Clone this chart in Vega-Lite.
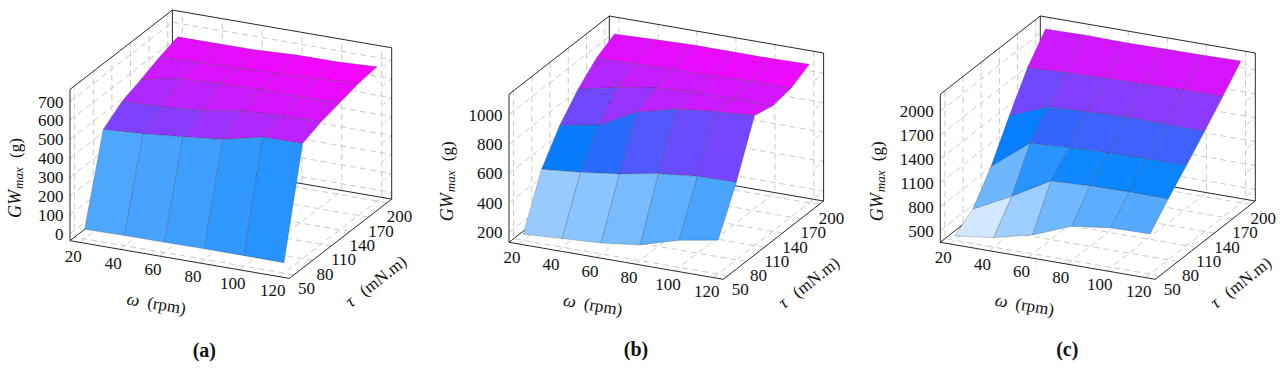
{"$schema":"https://vega.github.io/schema/vega-lite/v6.json","width":1280,"height":372,"padding":0,"autosize":"none","background":"white","config":{"view":{"stroke":null}},
"params":[{"name":"P","value":{
"a":{"ox":70,"oy":240.7,"wx":219.3,"wy":37.7,"tx":102.4,"ty":-79.3,"zh":151.3,"zm":-36,"zr":800,"lo":17,"hi":674,"gx":-54.3,"cx":204.3,"cy":350.7},
"b":{"ox":509,"oy":242.3,"wx":214.3,"wy":37,"tx":100.3,"ty":-78.3,"zh":148,"zm":132,"zr":1006,"lo":174,"hi":1074,"gx":-61.3,"cx":636,"cy":350},
"c":{"ox":940.3,"oy":242.3,"wx":215,"wy":37,"tx":100,"ty":-78.3,"zh":148,"zm":353,"zr":1860,"lo":409,"hi":2137,"gx":-62,"cx":1067.3,"cy":350}}}],
"data":{"values":[
{"m":"bb","p":"a","id":"a1","w":[125,15,15],"t":[207.5,207.5,42.5],"g":[-36,-36,-36],"k":[0,1,2]},
{"m":"bb","p":"a","id":"a2","w":[15,15],"t":[207.5,207.5],"g":[-36,764],"k":[0,1]},
{"m":"bb","p":"b","id":"b1","w":[125,15,15],"t":[207.5,207.5,42.5],"g":[132,132,132],"k":[0,1,2]},
{"m":"bb","p":"b","id":"b2","w":[15,15],"t":[207.5,207.5],"g":[132,1138],"k":[0,1]},
{"m":"bb","p":"c","id":"c1","w":[125,15,15],"t":[207.5,207.5,42.5],"g":[353,353,353],"k":[0,1,2]},
{"m":"bb","p":"c","id":"c2","w":[15,15],"t":[207.5,207.5],"g":[353,2213],"k":[0,1]},
{"m":"bf","p":"a","id":"a3","w":[15,15,15,125,125,125,15],"t":[42.5,42.5,207.5,207.5,207.5,42.5,42.5],"g":[-36,764,764,764,-36,-36,-36],"k":[0,1,2,3,4,5,6]},
{"m":"bf","p":"b","id":"b3","w":[15,15,15,125,125,125,15],"t":[42.5,42.5,207.5,207.5,207.5,42.5,42.5],"g":[132,1138,1138,1138,132,132,132],"k":[0,1,2,3,4,5,6]},
{"m":"bf","p":"c","id":"c3","w":[15,15,15,125,125,125,15],"t":[42.5,42.5,207.5,207.5,207.5,42.5,42.5],"g":[353,2213,2213,2213,353,353,353],"k":[0,1,2,3,4,5,6]},

{"m":"gr","p":"a","id":"aw20","w":[20,20,20],"t":[42.5,207.5,207.5],"g":[-36,-36,764],"k":[0,1,2]},
{"m":"gr","p":"a","id":"aw40","w":[40,40,40],"t":[42.5,207.5,207.5],"g":[-36,-36,764],"k":[0,1,2]},
{"m":"gr","p":"a","id":"aw60","w":[60,60,60],"t":[42.5,207.5,207.5],"g":[-36,-36,764],"k":[0,1,2]},
{"m":"gr","p":"a","id":"aw80","w":[80,80,80],"t":[42.5,207.5,207.5],"g":[-36,-36,764],"k":[0,1,2]},
{"m":"gr","p":"a","id":"aw100","w":[100,100,100],"t":[42.5,207.5,207.5],"g":[-36,-36,764],"k":[0,1,2]},
{"m":"gr","p":"a","id":"aw120","w":[120,120,120],"t":[42.5,207.5,207.5],"g":[-36,-36,764],"k":[0,1,2]},
{"m":"gr","p":"a","id":"at50","w":[125,15,15],"t":[50,50,50],"g":[-36,-36,764],"k":[0,1,2]},
{"m":"gr","p":"a","id":"at80","w":[125,15,15],"t":[80,80,80],"g":[-36,-36,764],"k":[0,1,2]},
{"m":"gr","p":"a","id":"at110","w":[125,15,15],"t":[110,110,110],"g":[-36,-36,764],"k":[0,1,2]},
{"m":"gr","p":"a","id":"at140","w":[125,15,15],"t":[140,140,140],"g":[-36,-36,764],"k":[0,1,2]},
{"m":"gr","p":"a","id":"at170","w":[125,15,15],"t":[170,170,170],"g":[-36,-36,764],"k":[0,1,2]},
{"m":"gr","p":"a","id":"at200","w":[125,15,15],"t":[200,200,200],"g":[-36,-36,764],"k":[0,1,2]},
{"m":"gr","p":"a","id":"az0","w":[15,15,125,125],"t":[42.5,207.5,207.5,193],"g":[0,0,0,0],"k":[0,1,2,3]},
{"m":"gr","p":"a","id":"az100","w":[15,15,125,125],"t":[42.5,207.5,207.5,193],"g":[100,100,100,100],"k":[0,1,2,3]},
{"m":"gr","p":"a","id":"az200","w":[15,15,125,125],"t":[42.5,207.5,207.5,193],"g":[200,200,200,200],"k":[0,1,2,3]},
{"m":"gr","p":"a","id":"az300","w":[15,15,125,125],"t":[42.5,207.5,207.5,193],"g":[300,300,300,300],"k":[0,1,2,3]},
{"m":"gr","p":"a","id":"az400","w":[15,15,125,125],"t":[42.5,207.5,207.5,193],"g":[400,400,400,400],"k":[0,1,2,3]},
{"m":"gr","p":"a","id":"az500","w":[15,15,125,125],"t":[42.5,207.5,207.5,193],"g":[500,500,500,500],"k":[0,1,2,3]},
{"m":"gr","p":"a","id":"az600","w":[15,15,125,125],"t":[42.5,207.5,207.5,193],"g":[600,600,600,600],"k":[0,1,2,3]},
{"m":"gr","p":"a","id":"az700","w":[15,15,125,125],"t":[42.5,207.5,207.5,193],"g":[700,700,700,700],"k":[0,1,2,3]},
{"m":"gr","p":"b","id":"bw20","w":[20,20,20],"t":[42.5,207.5,207.5],"g":[132,132,1138],"k":[0,1,2]},
{"m":"gr","p":"b","id":"bw40","w":[40,40,40],"t":[42.5,207.5,207.5],"g":[132,132,1138],"k":[0,1,2]},
{"m":"gr","p":"b","id":"bw60","w":[60,60,60],"t":[42.5,207.5,207.5],"g":[132,132,1138],"k":[0,1,2]},
{"m":"gr","p":"b","id":"bw80","w":[80,80,80],"t":[42.5,207.5,207.5],"g":[132,132,1138],"k":[0,1,2]},
{"m":"gr","p":"b","id":"bw100","w":[100,100,100],"t":[42.5,207.5,207.5],"g":[132,132,1138],"k":[0,1,2]},
{"m":"gr","p":"b","id":"bw120","w":[120,120,120],"t":[42.5,207.5,207.5],"g":[132,132,1138],"k":[0,1,2]},
{"m":"gr","p":"b","id":"bt50","w":[125,15,15],"t":[50,50,50],"g":[132,132,1138],"k":[0,1,2]},
{"m":"gr","p":"b","id":"bt80","w":[125,15,15],"t":[80,80,80],"g":[132,132,1138],"k":[0,1,2]},
{"m":"gr","p":"b","id":"bt110","w":[125,15,15],"t":[110,110,110],"g":[132,132,1138],"k":[0,1,2]},
{"m":"gr","p":"b","id":"bt140","w":[125,15,15],"t":[140,140,140],"g":[132,132,1138],"k":[0,1,2]},
{"m":"gr","p":"b","id":"bt170","w":[125,15,15],"t":[170,170,170],"g":[132,132,1138],"k":[0,1,2]},
{"m":"gr","p":"b","id":"bt200","w":[125,15,15],"t":[200,200,200],"g":[132,132,1138],"k":[0,1,2]},
{"m":"gr","p":"b","id":"bz200","w":[15,15,125,125],"t":[42.5,207.5,207.5,193],"g":[200,200,200,200],"k":[0,1,2,3]},
{"m":"gr","p":"b","id":"bz400","w":[15,15,125,125],"t":[42.5,207.5,207.5,193],"g":[400,400,400,400],"k":[0,1,2,3]},
{"m":"gr","p":"b","id":"bz600","w":[15,15,125,125],"t":[42.5,207.5,207.5,193],"g":[600,600,600,600],"k":[0,1,2,3]},
{"m":"gr","p":"b","id":"bz800","w":[15,15,125,125],"t":[42.5,207.5,207.5,193],"g":[800,800,800,800],"k":[0,1,2,3]},
{"m":"gr","p":"b","id":"bz1000","w":[15,15,125,125],"t":[42.5,207.5,207.5,193],"g":[1000,1000,1000,1000],"k":[0,1,2,3]},
{"m":"gr","p":"c","id":"cw20","w":[20,20,20],"t":[42.5,207.5,207.5],"g":[353,353,2213],"k":[0,1,2]},
{"m":"gr","p":"c","id":"cw40","w":[40,40,40],"t":[42.5,207.5,207.5],"g":[353,353,2213],"k":[0,1,2]},
{"m":"gr","p":"c","id":"cw60","w":[60,60,60],"t":[42.5,207.5,207.5],"g":[353,353,2213],"k":[0,1,2]},
{"m":"gr","p":"c","id":"cw80","w":[80,80,80],"t":[42.5,207.5,207.5],"g":[353,353,2213],"k":[0,1,2]},
{"m":"gr","p":"c","id":"cw100","w":[100,100,100],"t":[42.5,207.5,207.5],"g":[353,353,2213],"k":[0,1,2]},
{"m":"gr","p":"c","id":"cw120","w":[120,120,120],"t":[42.5,207.5,207.5],"g":[353,353,2213],"k":[0,1,2]},
{"m":"gr","p":"c","id":"ct50","w":[125,15,15],"t":[50,50,50],"g":[353,353,2213],"k":[0,1,2]},
{"m":"gr","p":"c","id":"ct80","w":[125,15,15],"t":[80,80,80],"g":[353,353,2213],"k":[0,1,2]},
{"m":"gr","p":"c","id":"ct110","w":[125,15,15],"t":[110,110,110],"g":[353,353,2213],"k":[0,1,2]},
{"m":"gr","p":"c","id":"ct140","w":[125,15,15],"t":[140,140,140],"g":[353,353,2213],"k":[0,1,2]},
{"m":"gr","p":"c","id":"ct170","w":[125,15,15],"t":[170,170,170],"g":[353,353,2213],"k":[0,1,2]},
{"m":"gr","p":"c","id":"ct200","w":[125,15,15],"t":[200,200,200],"g":[353,353,2213],"k":[0,1,2]},
{"m":"gr","p":"c","id":"cz500","w":[15,15,125,125],"t":[42.5,207.5,207.5,193],"g":[500,500,500,500],"k":[0,1,2,3]},
{"m":"gr","p":"c","id":"cz800","w":[15,15,125,125],"t":[42.5,207.5,207.5,193],"g":[800,800,800,800],"k":[0,1,2,3]},
{"m":"gr","p":"c","id":"cz1100","w":[15,15,125,125],"t":[42.5,207.5,207.5,193],"g":[1100,1100,1100,1100],"k":[0,1,2,3]},
{"m":"gr","p":"c","id":"cz1400","w":[15,15,125,125],"t":[42.5,207.5,207.5,193],"g":[1400,1400,1400,1400],"k":[0,1,2,3]},
{"m":"gr","p":"c","id":"cz1700","w":[15,15,125,125],"t":[42.5,207.5,207.5,193],"g":[1700,1700,1700,1700],"k":[0,1,2,3]},
{"m":"gr","p":"c","id":"cz2000","w":[15,15,125,125],"t":[42.5,207.5,207.5,193],"g":[2000,2000,2000,2000],"k":[0,1,2,3]},

{"m":"q","p":"a","id":"qa01","w":[20,40,40,20],"t":[170,170,200,200],"g":[618,628,652,651],"k":[0,1,2,3]},
{"m":"q","p":"a","id":"qa02","w":[40,60,60,40],"t":[170,170,200,200],"g":[628,634,653,652],"k":[0,1,2,3]},
{"m":"q","p":"a","id":"qa03","w":[60,80,80,60],"t":[170,170,200,200],"g":[634,642,663,653],"k":[0,1,2,3]},
{"m":"q","p":"a","id":"qa04","w":[80,100,100,80],"t":[170,170,200,200],"g":[642,650,664,663],"k":[0,1,2,3]},
{"m":"q","p":"a","id":"qa05","w":[100,120,120,100],"t":[170,170,200,200],"g":[650,662,674,664],"k":[0,1,2,3]},
{"m":"q","p":"a","id":"qa06","w":[20,40,40,20],"t":[140,140,170,170],"g":[575,619,628,618],"k":[0,1,2,3]},
{"m":"q","p":"a","id":"qa07","w":[40,60,60,40],"t":[140,140,170,170],"g":[619,629,634,628],"k":[0,1,2,3]},
{"m":"q","p":"a","id":"qa08","w":[60,80,80,60],"t":[140,140,170,170],"g":[629,634,642,634],"k":[0,1,2,3]},
{"m":"q","p":"a","id":"qa09","w":[80,100,100,80],"t":[140,140,170,170],"g":[634,631,650,642],"k":[0,1,2,3]},
{"m":"q","p":"a","id":"qa10","w":[100,120,120,100],"t":[140,140,170,170],"g":[631,636,662,650],"k":[0,1,2,3]},
{"m":"q","p":"a","id":"qa11","w":[20,40,40,20],"t":[110,110,140,140],"g":[538,546,619,575],"k":[0,1,2,3]},
{"m":"q","p":"a","id":"qa12","w":[40,60,60,40],"t":[110,110,140,140],"g":[546,561,629,619],"k":[0,1,2,3]},
{"m":"q","p":"a","id":"qa13","w":[60,80,80,60],"t":[110,110,140,140],"g":[561,597,634,629],"k":[0,1,2,3]},
{"m":"q","p":"a","id":"qa14","w":[80,100,100,80],"t":[110,110,140,140],"g":[597,607,631,634],"k":[0,1,2,3]},
{"m":"q","p":"a","id":"qa15","w":[100,120,120,100],"t":[110,110,140,140],"g":[607,612,636,631],"k":[0,1,2,3]},
{"m":"q","p":"a","id":"qa16","w":[20,40,40,20],"t":[80,80,110,110],"g":[466,480,546,538],"k":[0,1,2,3]},
{"m":"q","p":"a","id":"qa17","w":[40,60,60,40],"t":[80,80,110,110],"g":[480,500,561,546],"k":[0,1,2,3]},
{"m":"q","p":"a","id":"qa18","w":[60,80,80,60],"t":[80,80,110,110],"g":[500,522,597,561],"k":[0,1,2,3]},
{"m":"q","p":"a","id":"qa19","w":[80,100,100,80],"t":[80,80,110,110],"g":[522,570,607,597],"k":[0,1,2,3]},
{"m":"q","p":"a","id":"qa20","w":[100,120,120,100],"t":[80,80,110,110],"g":[570,573,612,607],"k":[0,1,2,3]},
{"m":"q","p":"a","id":"qa21","w":[20,40,40,20],"t":[50,50,80,80],"g":[14,18,480,466],"k":[0,1,2,3]},
{"m":"q","p":"a","id":"qa22","w":[40,60,60,40],"t":[50,50,80,80],"g":[18,18,500,480],"k":[0,1,2,3]},
{"m":"q","p":"a","id":"qa23","w":[60,80,80,60],"t":[50,50,80,80],"g":[18,20,522,500],"k":[0,1,2,3]},
{"m":"q","p":"a","id":"qa24","w":[80,100,100,80],"t":[50,50,80,80],"g":[20,20,570,522],"k":[0,1,2,3]},
{"m":"q","p":"a","id":"qa25","w":[100,120,120,100],"t":[50,50,80,80],"g":[20,19,573,570],"k":[0,1,2,3]},

{"m":"q","p":"b","id":"qb01","w":[20,40,40,20],"t":[170,170,200,200],"g":[983,990,1061,1052],"k":[0,1,2,3]},
{"m":"q","p":"b","id":"qb02","w":[40,60,60,40],"t":[170,170,200,200],"g":[990,998,1069,1061],"k":[0,1,2,3]},
{"m":"q","p":"b","id":"qb03","w":[60,80,80,60],"t":[170,170,200,200],"g":[998,1000,1069,1069],"k":[0,1,2,3]},
{"m":"q","p":"b","id":"qb04","w":[80,100,100,80],"t":[170,170,200,200],"g":[1000,1008,1069,1069],"k":[0,1,2,3]},
{"m":"q","p":"b","id":"qb05","w":[100,120,120,100],"t":[170,170,200,200],"g":[1008,1008,1074,1069],"k":[0,1,2,3]},
{"m":"q","p":"b","id":"qb06","w":[20,40,40,20],"t":[140,140,170,170],"g":[869,926,990,983],"k":[0,1,2,3]},
{"m":"q","p":"b","id":"qb07","w":[40,60,60,40],"t":[140,140,170,170],"g":[926,970,998,990],"k":[0,1,2,3]},
{"m":"q","p":"b","id":"qb08","w":[60,80,80,60],"t":[140,140,170,170],"g":[970,984,1000,998],"k":[0,1,2,3]},
{"m":"q","p":"b","id":"qb09","w":[80,100,100,80],"t":[140,140,170,170],"g":[984,984,1008,1000],"k":[0,1,2,3]},
{"m":"q","p":"b","id":"qb10","w":[100,120,120,100],"t":[140,140,170,170],"g":[984,985,1008,1008],"k":[0,1,2,3]},
{"m":"q","p":"b","id":"qb11","w":[20,40,40,20],"t":[110,110,140,140],"g":[721,769,926,869],"k":[0,1,2,3]},
{"m":"q","p":"b","id":"qb12","w":[40,60,60,40],"t":[110,110,140,140],"g":[769,903,970,926],"k":[0,1,2,3]},
{"m":"q","p":"b","id":"qb13","w":[60,80,80,60],"t":[110,110,140,140],"g":[903,967,984,970],"k":[0,1,2,3]},
{"m":"q","p":"b","id":"qb14","w":[80,100,100,80],"t":[110,110,140,140],"g":[967,997,984,984],"k":[0,1,2,3]},
{"m":"q","p":"b","id":"qb15","w":[100,120,120,100],"t":[110,110,140,140],"g":[997,1016,985,984],"k":[0,1,2,3]},
{"m":"q","p":"b","id":"qb16","w":[20,40,40,20],"t":[80,80,110,110],"g":[519,544,769,721],"k":[0,1,2,3]},
{"m":"q","p":"b","id":"qb17","w":[40,60,60,40],"t":[80,80,110,110],"g":[544,579,903,769],"k":[0,1,2,3]},
{"m":"q","p":"b","id":"qb18","w":[60,80,80,60],"t":[80,80,110,110],"g":[579,627,967,903],"k":[0,1,2,3]},
{"m":"q","p":"b","id":"qb19","w":[80,100,100,80],"t":[80,80,110,110],"g":[627,654,997,967],"k":[0,1,2,3]},
{"m":"q","p":"b","id":"qb20","w":[100,120,120,100],"t":[80,80,110,110],"g":[654,659,1016,997],"k":[0,1,2,3]},
{"m":"q","p":"b","id":"qb21","w":[20,40,40,20],"t":[50,50,80,80],"g":[174,190,544,519],"k":[0,1,2,3]},
{"m":"q","p":"b","id":"qb22","w":[40,60,60,40],"t":[50,50,80,80],"g":[190,206,579,544],"k":[0,1,2,3]},
{"m":"q","p":"b","id":"qb23","w":[60,80,80,60],"t":[50,50,80,80],"g":[206,238,627,579],"k":[0,1,2,3]},
{"m":"q","p":"b","id":"qb24","w":[80,100,100,80],"t":[50,50,80,80],"g":[238,316,654,627],"k":[0,1,2,3]},
{"m":"q","p":"b","id":"qb25","w":[100,120,120,100],"t":[50,50,80,80],"g":[316,362,659,654],"k":[0,1,2,3]},

{"m":"q","p":"c","id":"qc01","w":[20,40,40,20],"t":[170,170,200,200],"g":[1805,1831,2125,2116],"k":[0,1,2,3]},
{"m":"q","p":"c","id":"qc02","w":[40,60,60,40],"t":[170,170,200,200],"g":[1831,1844,2118,2125],"k":[0,1,2,3]},
{"m":"q","p":"c","id":"qc03","w":[60,80,80,60],"t":[170,170,200,200],"g":[1844,1854,2123,2118],"k":[0,1,2,3]},
{"m":"q","p":"c","id":"qc04","w":[80,100,100,80],"t":[170,170,200,200],"g":[1854,1867,2128,2123],"k":[0,1,2,3]},
{"m":"q","p":"c","id":"qc05","w":[100,120,120,100],"t":[170,170,200,200],"g":[1867,1868,2137,2128],"k":[0,1,2,3]},
{"m":"q","p":"c","id":"qc06","w":[20,40,40,20],"t":[140,140,170,170],"g":[1381,1578,1831,1805],"k":[0,1,2,3]},
{"m":"q","p":"c","id":"qc07","w":[40,60,60,40],"t":[140,140,170,170],"g":[1578,1604,1844,1831],"k":[0,1,2,3]},
{"m":"q","p":"c","id":"qc08","w":[60,80,80,60],"t":[140,140,170,170],"g":[1604,1618,1854,1844],"k":[0,1,2,3]},
{"m":"q","p":"c","id":"qc09","w":[80,100,100,80],"t":[140,140,170,170],"g":[1618,1614,1867,1854],"k":[0,1,2,3]},
{"m":"q","p":"c","id":"qc10","w":[100,120,120,100],"t":[140,140,170,170],"g":[1614,1611,1868,1867],"k":[0,1,2,3]},
{"m":"q","p":"c","id":"qc11","w":[20,40,40,20],"t":[110,110,140,140],"g":[923,1301,1578,1381],"k":[0,1,2,3]},
{"m":"q","p":"c","id":"qc12","w":[40,60,60,40],"t":[110,110,140,140],"g":[1301,1331,1604,1578],"k":[0,1,2,3]},
{"m":"q","p":"c","id":"qc13","w":[60,80,80,60],"t":[110,110,140,140],"g":[1331,1348,1618,1604],"k":[0,1,2,3]},
{"m":"q","p":"c","id":"qc14","w":[80,100,100,80],"t":[110,110,140,140],"g":[1348,1358,1614,1618],"k":[0,1,2,3]},
{"m":"q","p":"c","id":"qc15","w":[100,120,120,100],"t":[110,110,140,140],"g":[1358,1358,1611,1614],"k":[0,1,2,3]},
{"m":"q","p":"c","id":"qc16","w":[20,40,40,20],"t":[80,80,110,110],"g":[565,813,1301,923],"k":[0,1,2,3]},
{"m":"q","p":"c","id":"qc17","w":[40,60,60,40],"t":[80,80,110,110],"g":[813,1091,1331,1301],"k":[0,1,2,3]},
{"m":"q","p":"c","id":"qc18","w":[60,80,80,60],"t":[80,80,110,110],"g":[1091,1112,1348,1331],"k":[0,1,2,3]},
{"m":"q","p":"c","id":"qc19","w":[80,100,100,80],"t":[80,80,110,110],"g":[1112,1122,1358,1348],"k":[0,1,2,3]},
{"m":"q","p":"c","id":"qc20","w":[100,120,120,100],"t":[80,80,110,110],"g":[1122,1118,1358,1358],"k":[0,1,2,3]},
{"m":"q","p":"c","id":"qc21","w":[20,40,40,20],"t":[50,50,80,80],"g":[409,473,813,565],"k":[0,1,2,3]},
{"m":"q","p":"c","id":"qc22","w":[40,60,60,40],"t":[50,50,80,80],"g":[473,591,1091,813],"k":[0,1,2,3]},
{"m":"q","p":"c","id":"qc23","w":[60,80,80,60],"t":[50,50,80,80],"g":[591,784,1112,1091],"k":[0,1,2,3]},
{"m":"q","p":"c","id":"qc24","w":[80,100,100,80],"t":[50,50,80,80],"g":[784,848,1122,1112],"k":[0,1,2,3]},
{"m":"q","p":"c","id":"qc25","w":[100,120,120,100],"t":[50,50,80,80],"g":[848,857,1118,1122],"k":[0,1,2,3]},

{"m":"lw","p":"a","s":"20","w":[20],"t":[42.5],"g":[-36],"k":[0]},{"m":"lw","p":"a","s":"40","w":[40],"t":[42.5],"g":[-36],"k":[0]},{"m":"lw","p":"a","s":"60","w":[60],"t":[42.5],"g":[-36],"k":[0]},{"m":"lw","p":"a","s":"80","w":[80],"t":[42.5],"g":[-36],"k":[0]},{"m":"lw","p":"a","s":"100","w":[100],"t":[42.5],"g":[-36],"k":[0]},{"m":"lw","p":"a","s":"120","w":[120],"t":[42.5],"g":[-36],"k":[0]},
{"m":"lw","p":"b","s":"20","w":[20],"t":[42.5],"g":[132],"k":[0]},{"m":"lw","p":"b","s":"40","w":[40],"t":[42.5],"g":[132],"k":[0]},{"m":"lw","p":"b","s":"60","w":[60],"t":[42.5],"g":[132],"k":[0]},{"m":"lw","p":"b","s":"80","w":[80],"t":[42.5],"g":[132],"k":[0]},{"m":"lw","p":"b","s":"100","w":[100],"t":[42.5],"g":[132],"k":[0]},{"m":"lw","p":"b","s":"120","w":[120],"t":[42.5],"g":[132],"k":[0]},
{"m":"lw","p":"c","s":"20","w":[20],"t":[42.5],"g":[353],"k":[0]},{"m":"lw","p":"c","s":"40","w":[40],"t":[42.5],"g":[353],"k":[0]},{"m":"lw","p":"c","s":"60","w":[60],"t":[42.5],"g":[353],"k":[0]},{"m":"lw","p":"c","s":"80","w":[80],"t":[42.5],"g":[353],"k":[0]},{"m":"lw","p":"c","s":"100","w":[100],"t":[42.5],"g":[353],"k":[0]},{"m":"lw","p":"c","s":"120","w":[120],"t":[42.5],"g":[353],"k":[0]},
{"m":"lt","p":"a","s":"50","w":[125],"t":[50],"g":[-36],"k":[0]},{"m":"lt","p":"a","s":"80","w":[125],"t":[80],"g":[-36],"k":[0]},{"m":"lt","p":"a","s":"110","w":[125],"t":[110],"g":[-36],"k":[0]},{"m":"lt","p":"a","s":"140","w":[125],"t":[140],"g":[-36],"k":[0]},{"m":"lt","p":"a","s":"170","w":[125],"t":[170],"g":[-36],"k":[0]},{"m":"lt","p":"a","s":"200","w":[125],"t":[200],"g":[-36],"k":[0]},
{"m":"lt","p":"b","s":"50","w":[125],"t":[50],"g":[132],"k":[0]},{"m":"lt","p":"b","s":"80","w":[125],"t":[80],"g":[132],"k":[0]},{"m":"lt","p":"b","s":"110","w":[125],"t":[110],"g":[132],"k":[0]},{"m":"lt","p":"b","s":"140","w":[125],"t":[140],"g":[132],"k":[0]},{"m":"lt","p":"b","s":"170","w":[125],"t":[170],"g":[132],"k":[0]},{"m":"lt","p":"b","s":"200","w":[125],"t":[200],"g":[132],"k":[0]},
{"m":"lt","p":"c","s":"50","w":[125],"t":[50],"g":[353],"k":[0]},{"m":"lt","p":"c","s":"80","w":[125],"t":[80],"g":[353],"k":[0]},{"m":"lt","p":"c","s":"110","w":[125],"t":[110],"g":[353],"k":[0]},{"m":"lt","p":"c","s":"140","w":[125],"t":[140],"g":[353],"k":[0]},{"m":"lt","p":"c","s":"170","w":[125],"t":[170],"g":[353],"k":[0]},{"m":"lt","p":"c","s":"200","w":[125],"t":[200],"g":[353],"k":[0]},
{"m":"lz","p":"a","s":"0","w":[15],"t":[42.5],"g":[0],"k":[0]},{"m":"lz","p":"a","s":"100","w":[15],"t":[42.5],"g":[100],"k":[0]},{"m":"lz","p":"a","s":"200","w":[15],"t":[42.5],"g":[200],"k":[0]},{"m":"lz","p":"a","s":"300","w":[15],"t":[42.5],"g":[300],"k":[0]},{"m":"lz","p":"a","s":"400","w":[15],"t":[42.5],"g":[400],"k":[0]},{"m":"lz","p":"a","s":"500","w":[15],"t":[42.5],"g":[500],"k":[0]},{"m":"lz","p":"a","s":"600","w":[15],"t":[42.5],"g":[600],"k":[0]},{"m":"lz","p":"a","s":"700","w":[15],"t":[42.5],"g":[700],"k":[0]},
{"m":"lz","p":"b","s":"200","w":[15],"t":[42.5],"g":[200],"k":[0]},{"m":"lz","p":"b","s":"400","w":[15],"t":[42.5],"g":[400],"k":[0]},{"m":"lz","p":"b","s":"600","w":[15],"t":[42.5],"g":[600],"k":[0]},{"m":"lz","p":"b","s":"800","w":[15],"t":[42.5],"g":[800],"k":[0]},{"m":"lz","p":"b","s":"1000","w":[15],"t":[42.5],"g":[1000],"k":[0]},
{"m":"lz","p":"c","s":"500","w":[15],"t":[42.5],"g":[500],"k":[0]},{"m":"lz","p":"c","s":"800","w":[15],"t":[42.5],"g":[800],"k":[0]},{"m":"lz","p":"c","s":"1100","w":[15],"t":[42.5],"g":[1100],"k":[0]},{"m":"lz","p":"c","s":"1400","w":[15],"t":[42.5],"g":[1400],"k":[0]},{"m":"lz","p":"c","s":"1700","w":[15],"t":[42.5],"g":[1700],"k":[0]},{"m":"lz","p":"c","s":"2000","w":[15],"t":[42.5],"g":[2000],"k":[0]},
{"m":"tw","p":"a","w":[70],"t":[42.5],"g":[-36],"k":[0]},{"m":"tw","p":"b","w":[70],"t":[42.5],"g":[132],"k":[0]},{"m":"tw","p":"c","w":[70],"t":[42.5],"g":[353],"k":[0]},
{"m":"tt","p":"a","w":[125],"t":[125],"g":[-36],"k":[0]},{"m":"tt","p":"b","w":[125],"t":[125],"g":[132],"k":[0]},{"m":"tt","p":"c","w":[125],"t":[125],"g":[353],"k":[0]},
{"m":"tz","p":"a","w":[15],"t":[42.5],"g":[364],"k":[0]},{"m":"tz","p":"b","w":[15],"t":[42.5],"g":[635],"k":[0]},{"m":"tz","p":"c","w":[15],"t":[42.5],"g":[1283],"k":[0]},
{"m":"cap","p":"a","s":"(a)","w":[70],"t":[42.5],"g":[-36],"k":[0]},{"m":"cap","p":"b","s":"(b)","w":[70],"t":[42.5],"g":[132],"k":[0]},{"m":"cap","p":"c","s":"(c)","w":[70],"t":[42.5],"g":[353],"k":[0]}
]},
"transform":[
{"calculate":"(datum.g[0]+datum.g[1]+datum.g[2]+datum.g[3])/4","as":"mean"},
{"calculate":"(datum.mean-P[datum.p].lo)/(P[datum.p].hi-P[datum.p].lo)","as":"c"},
{"flatten":["w","t","g","k"]},
{"calculate":"P[datum.p].ox+(datum.w-15)/110*P[datum.p].wx+(datum.t-42.5)/165*P[datum.p].tx","as":"px"},
{"calculate":"P[datum.p].oy+(datum.w-15)/110*P[datum.p].wy+(datum.t-42.5)/165*P[datum.p].ty-(datum.g-P[datum.p].zm)/P[datum.p].zr*P[datum.p].zh","as":"py"},
{"calculate":"datum.px+P[datum.p].gx","as":"gxx"},
{"calculate":"P[datum.p].cx","as":"capx"},
{"calculate":"P[datum.p].cy","as":"capy"}
],
"encoding":{
"x":{"field":"px","type":"quantitative","scale":{"domain":[0,1280],"nice":false,"zero":false},"axis":null},
"y":{"field":"py","type":"quantitative","scale":{"domain":[372,0],"nice":false,"zero":false},"axis":null}},
"layer":[
{"transform":[{"filter":"datum.m=='gr'"}],"mark":{"type":"line","stroke":"#c4c4c4","strokeWidth":0.9,"strokeDash":[6,4]},"encoding":{"detail":{"field":"id"},"order":{"field":"k"}}},
{"transform":[{"filter":"datum.m=='bb'"}],"mark":{"type":"line","stroke":"#111111","strokeWidth":0.9},"encoding":{"detail":{"field":"id"},"order":{"field":"k"}}},
{"transform":[{"filter":"datum.m=='q'"}],"mark":{"type":"line","interpolate":"linear-closed","stroke":"#333333","strokeOpacity":0.35,"strokeWidth":0.7},"encoding":{"detail":{"field":"id"},"order":{"field":"k"},"fill":{"field":"c","type":"quantitative","scale":{"domain":[0,0.5,1],"range":["#ffffff","#0080ff","#ff00ff"],"interpolate":"rgb"},"legend":null}}},
{"transform":[{"filter":"datum.m=='bf'"}],"mark":{"type":"line","stroke":"#111111","strokeWidth":0.9},"encoding":{"detail":{"field":"id"},"order":{"field":"k"}}},
{"transform":[{"filter":"datum.m=='lw'"}],"mark":{"type":"text","font":"Liberation Serif","fontSize":17,"fill":"#111","dx":-6.7,"dy":14.3,"align":"center","baseline":"middle"},"encoding":{"text":{"field":"s"}}},
{"transform":[{"filter":"datum.m=='lt'"}],"mark":{"type":"text","font":"Liberation Serif","fontSize":17,"fill":"#111","dx":12.5,"dy":14.5,"align":"center","baseline":"middle"},"encoding":{"text":{"field":"s"}}},
{"transform":[{"filter":"datum.m=='lz'"}],"mark":{"type":"text","font":"Liberation Serif","fontSize":17,"fill":"#111","dx":-6.5,"dy":1,"align":"right","baseline":"middle"},"encoding":{"text":{"field":"s"}}},
{"transform":[{"filter":"datum.m=='tw'"}],"mark":{"type":"text","font":"Liberation Serif","fontStyle":"italic","fontSize":18,"fill":"#111","angle":9.7,"dx":-39,"dy":48,"align":"center","baseline":"middle","text":"ω"}},
{"transform":[{"filter":"datum.m=='tw'"}],"mark":{"type":"text","font":"Liberation Serif","fontSize":17,"fill":"#111","angle":9.7,"dx":-5,"dy":48,"align":"center","baseline":"middle","text":"(rpm)"}},
{"transform":[{"filter":"datum.m=='tt'"}],"mark":{"type":"text","font":"Liberation Serif","fontStyle":"italic","fontSize":18,"fill":"#111","angle":-38,"dx":-31,"dy":56,"align":"center","baseline":"middle","text":"τ"}},
{"transform":[{"filter":"datum.m=='tt'"}],"mark":{"type":"text","font":"Liberation Serif","fontSize":17,"fill":"#111","angle":-38,"dx":10.6,"dy":56,"align":"center","baseline":"middle","text":"(mN.m)"}},
{"transform":[{"filter":"datum.m=='tz'"}],"mark":{"type":"text","font":"Liberation Serif","fontStyle":"italic","fontSize":18,"fill":"#111","angle":-90,"dx":-39,"dy":0,"align":"center","baseline":"middle","text":"GW"},"encoding":{"x":{"field":"gxx","type":"quantitative"}}},
{"transform":[{"filter":"datum.m=='tz'"}],"mark":{"type":"text","font":"Liberation Serif","fontStyle":"italic","fontSize":13,"fill":"#111","angle":-90,"dx":-13,"dy":3,"align":"center","baseline":"middle","text":"max"},"encoding":{"x":{"field":"gxx","type":"quantitative"}}},
{"transform":[{"filter":"datum.m=='tz'"}],"mark":{"type":"text","font":"Liberation Serif","fontSize":17,"fill":"#111","angle":-90,"dx":17,"dy":0,"align":"center","baseline":"middle","text":"(g)"},"encoding":{"x":{"field":"gxx","type":"quantitative"}}},
{"transform":[{"filter":"datum.m=='cap'"}],"mark":{"type":"text","font":"Liberation Serif","fontWeight":"bold","fontSize":20,"fill":"#111","align":"center","baseline":"middle"},"encoding":{"x":{"field":"capx","type":"quantitative"},"y":{"field":"capy","type":"quantitative"},"text":{"field":"s"}}}
]}
